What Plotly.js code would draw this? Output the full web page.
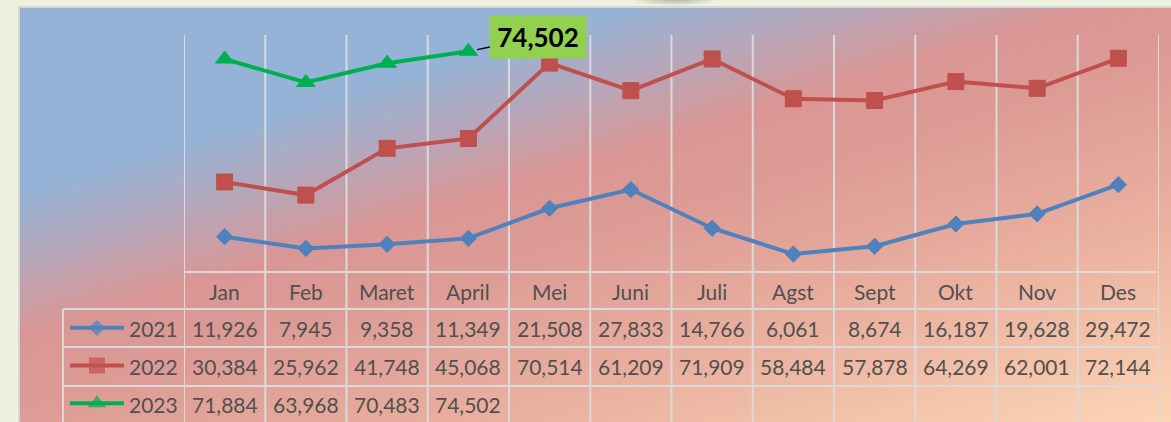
<!DOCTYPE html>
<html>
<head>
<meta charset="utf-8">
<script src="https://cdn.plot.ly/plotly-3.0.1.min.js"></script>
<style>
  html, body { margin: 0; padding: 0; background: #eef1e0; }
  #wrap { position: relative; width: 1171px; height: 422px; overflow: hidden; background: #eef1e0; }
  #bg {
    position: absolute; left: 18px; top: 6px; width: 1153px; height: 416px;
    box-sizing: border-box; border-left: 2px solid #d6d6d6; border-top: 2px solid #d6d6d6;
    background: linear-gradient(163deg, #95b3d7 0%, #95b3d7 24%, #b5a7bb 33%, #da9694 43%, #dc9b95 52%, #eab09f 73%, #fcd5b5 100%);
  }
  #blob {
    position: absolute; left: 630px; top: -8px; width: 90px; height: 14px;
    background: radial-gradient(ellipse at center, rgba(120,125,105,0.55) 0%, rgba(238,241,224,0) 70%);
  }
  #chart { position: absolute; left: 0; top: 0; width: 1171px; height: 422px; }
</style>
</head>
<body>
<div id="wrap">
  <div id="bg"></div>
  <div id="blob"></div>
  <div id="chart"></div>
</div>
<script>
// ---- data ----
const months = ['Jan','Feb','Maret','April','Mei','Juni','Juli','Agst','Sept','Okt','Nov','Des'];
const years = ['2021','2022','2023'];
const v2021 = [11926,7945,9358,11349,21508,27833,14766,6061,8674,16187,19628,29472];
const v2022 = [30384,25962,41748,45068,70514,61209,71909,58484,57878,64269,62001,72144];
const v2023 = [71884,63968,70483,74502];
const seriesValues = [v2021, v2022, v2023];

// ---- styles ----
const colors = ['#4f81bd', '#c0504d', '#00b050'];
const symbols = ['diamond', 'square', 'triangle-up'];
const msizes = [12.5, 16, 16];
const W = 1171, H = 422;
const px = x => x / W;
const py = y => 1 - y / H;
const plotL = 184, plotR = 1159, plotT = 35, plotB = 272;
const headB = 309, rowLines = [347, 386];
const tableL = 63;
const rowCenters = [328, 366.5, 404.5];
const headCenter = 291;
const gridColor = '#dadada';
const textFont = { family: 'Lato, "Open Sans", sans-serif', size: 21, color: '#505050' };
const fmt = v => v.toLocaleString('en-US');

const traces = [];
seriesValues.forEach((vals, i) => {
  traces.push({
    x: months.slice(0, vals.length),
    y: vals,
    type: 'scatter',
    mode: 'lines+markers',
    name: years[i],
    line: { color: colors[i], width: 4 },
    marker: { symbol: symbols[i], size: msizes[i], color: colors[i], line: { width: 1, color: colors[i] } },
    xaxis: 'x', yaxis: 'y',
    showlegend: false,
    hoverinfo: 'skip'
  });
  // legend key in the table's first column
  traces.push({
    x: [7, 34, 61],
    y: [2.5 - i, 2.5 - i, 2.5 - i],
    type: 'scatter',
    mode: 'lines+markers',
    line: { color: colors[i], width: 4 },
    marker: { symbol: symbols[i], size: [0, msizes[i], 0], color: colors[i], line: { width: 0 } },
    xaxis: 'x2', yaxis: 'y2',
    showlegend: false,
    hoverinfo: 'skip'
  });
});

const shapes = [];
// vertical grid/table lines at category boundaries
for (let i = 0; i <= months.length; i++) {
  shapes.push({ type: 'line', layer: 'below', xref: 'x', yref: 'paper',
    x0: i - 0.5, x1: i - 0.5, y0: 0, y1: py(plotT),
    line: { color: gridColor, width: 2 } });
}
// header top line
shapes.push({ type: 'line', layer: 'below', xref: 'paper', yref: 'paper',
  x0: px(plotL), x1: px(plotR), y0: py(plotB), y1: py(plotB), line: { color: gridColor, width: 2 } });
// row lines
[headB].concat(rowLines).forEach(y => {
  shapes.push({ type: 'line', layer: 'below', xref: 'paper', yref: 'paper',
    x0: px(tableL), x1: px(plotR), y0: py(y), y1: py(y), line: { color: gridColor, width: 2 } });
});
// left table edge
shapes.push({ type: 'line', layer: 'below', xref: 'paper', yref: 'paper',
  x0: px(tableL), x1: px(tableL), y0: 0, y1: py(headB), line: { color: gridColor, width: 2 } });

const annotations = [];
months.forEach((m, i) => {
  annotations.push({ xref: 'x', yref: 'paper', x: i, y: py(headCenter), text: m,
    showarrow: false, xanchor: 'center', yanchor: 'middle', font: textFont });
});
seriesValues.forEach((vals, r) => {
  annotations.push({ xref: 'paper', yref: 'paper', x: px(127), y: py(rowCenters[r]), text: years[r],
    showarrow: false, xanchor: 'left', yanchor: 'middle', font: textFont });
  vals.forEach((v, i) => {
    annotations.push({ xref: 'x', yref: 'paper', x: i, y: py(rowCenters[r]), text: fmt(v),
      showarrow: false, xanchor: 'center', yanchor: 'middle', font: textFont });
  });
});
// data label for last 2023 point
const lastIdx = v2023.length - 1;
annotations.push({
  xref: 'x', yref: 'y', x: lastIdx, y: v2023[lastIdx],
  text: '<b>' + fmt(v2023[lastIdx]) + '</b>',
  showarrow: true, arrowhead: 0, arrowwidth: 1.3, arrowcolor: '#000000', standoff: 9,
  ax: 70, ay: -14,
  bgcolor: '#92d050', borderpad: 0, width: 96, height: 42,
  font: { family: 'Lato, "Open Sans", sans-serif', size: 26, color: '#000000' }
});

const layout = {
  width: W, height: H,
  margin: { l: 0, r: 0, t: 0, b: 0, pad: 0 },
  paper_bgcolor: 'rgba(0,0,0,0)',
  plot_bgcolor: 'rgba(0,0,0,0)',
  showlegend: false,
  xaxis: { type: 'category', domain: [px(plotL), px(plotR)], range: [-0.5, 11.5],
    showgrid: false, zeroline: false, showline: false, showticklabels: false, ticks: '' },
  yaxis: { domain: [py(plotB), py(plotT)], range: [0, 80000],
    showgrid: false, zeroline: false, showline: false, showticklabels: false, ticks: '' },
  xaxis2: { domain: [px(tableL), px(plotL)], range: [0, plotL - tableL], anchor: 'y2',
    showgrid: false, zeroline: false, showline: false, showticklabels: false, ticks: '' },
  yaxis2: { domain: [0, py(headB)], range: [0, 3], anchor: 'x2',
    showgrid: false, zeroline: false, showline: false, showticklabels: false, ticks: '' },
  shapes: shapes,
  annotations: annotations,
  font: textFont
};

Plotly.newPlot('chart', traces, layout, { displayModeBar: false, staticPlot: true });
</script>
</body>
</html>
